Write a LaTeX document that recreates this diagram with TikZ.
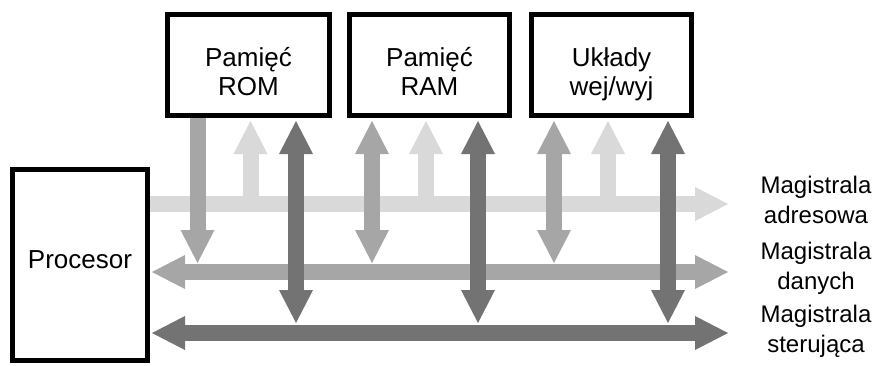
\documentclass[tikz,border=0pt]{standalone}
\usepackage{fontspec}
\setmainfont{Liberation Sans}
\usetikzlibrary{arrows.meta}

\definecolor{busA}{HTML}{D9D9D9}
\definecolor{busD}{HTML}{A6A6A6}
\definecolor{busC}{HTML}{737373}

\tikzset{
  bustip/.tip={Triangle[length=33pt, width=34pt, line width=0pt]},
  unit/.style={draw=black, line width=5pt, fill=white, inner sep=0pt},
  unittext/.style={align=center, font=\fontsize{26}{29}\selectfont,
    inner sep=0pt, anchor=base},
  buslabel/.style={align=center, font=\fontsize{24}{30}\selectfont,
    inner sep=0pt, anchor=base},
  busline/.style={line width=16pt, draw=#1},
  oneway/.style={busline=#1, -{bustip}},
  twoway/.style={busline=#1, {bustip}-{bustip}},
}

\begin{document}
\begin{tikzpicture}[x=1pt, y=-1pt]
\useasboundingbox (0,0) rectangle (885,365);

% units
\node[unit, minimum width=162pt, minimum height=101pt] (rom) at (248.5,65) {};
\node[unit, minimum width=160pt, minimum height=101pt] (ram) at (429.5,65) {};
\node[unit, minimum width=160pt, minimum height=101pt] (io)  at (611.5,65) {};
\node[unit, minimum width=135pt, minimum height=191pt] (cpu) at (80,265) {};

% unit names (anchored on the last baseline)
\node[unittext] (romT) at ([yshift=-30pt]rom.center) {Pamięć\\ROM};
\node[unittext] (ramT) at ([yshift=-30pt]ram.center) {Pamięć\\RAM};
\node[unittext] (ioT)  at ([yshift=-30pt]io.center)  {Układy\\wej/wyj};
\node[unittext] (cpuT) at ([yshift=-3pt]cpu.center) {Procesor};

% bus end points
\coordinate (aEnd) at (728,204);
\coordinate (dEnd) at (728,272);
\coordinate (cEnd) at (728,333);

% taps onto the buses
\coordinate (romD) at (197.5,263);
\coordinate (romA) at (250.5,204);
\coordinate (romC) at (296,323);
\coordinate (ramD) at (372,263);
\coordinate (ramA) at (426,204);
\coordinate (ramC) at (478,323);
\coordinate (ioD)  at (554,263);
\coordinate (ioA)  at (608,204);
\coordinate (ioC)  at (668,323);

% address bus
\draw[oneway=busA] (cpu.east |- aEnd) -- (aEnd);
\draw[oneway=busA] (romA) -- ([yshift=-3pt]rom.south -| romA);
\draw[oneway=busA] (ramA) -- ([yshift=-3pt]ram.south -| ramA);
\draw[oneway=busA] (ioA)  -- ([yshift=-3pt]io.south -| ioA);

% data bus
\draw[twoway=busD] ([xshift=2pt]cpu.east |- dEnd) -- (dEnd);
\draw[oneway=busD] (rom.south -| romD) -- (romD);
\draw[twoway=busD] ([yshift=-3pt]ram.south -| ramD) -- (ramD);
\draw[twoway=busD] ([yshift=-3pt]io.south -| ioD) -- (ioD);

% control bus
\draw[twoway=busC] ([xshift=2pt]cpu.east |- cEnd) -- (cEnd);
\draw[twoway=busC] ([yshift=-3pt]rom.south -| romC) -- (romC);
\draw[twoway=busC] ([yshift=-3pt]ram.south -| ramC) -- (ramC);
\draw[twoway=busC] ([yshift=-3pt]io.south -| ioC) -- (ioC);

% bus names (anchored on the last baseline)
\node[buslabel] (lblA) at (816,223) {Magistrala\\adresowa};
\node[buslabel] (lblD) at (816,289) {Magistrala\\danych};
\node[buslabel] (lblC) at (816,352) {Magistrala\\sterująca};
\end{tikzpicture}
\end{document}
